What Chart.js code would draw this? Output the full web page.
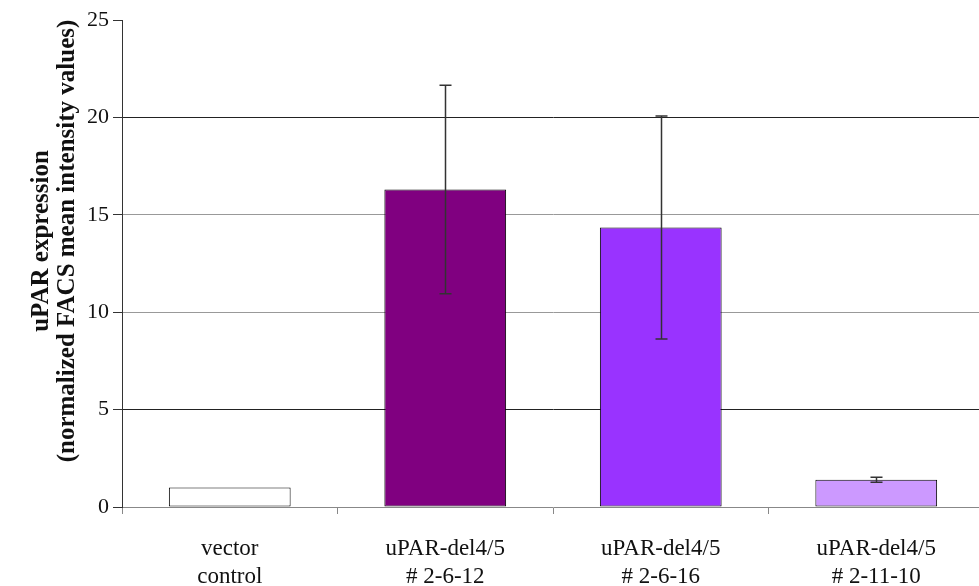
<!DOCTYPE html>
<html>
<head>
<meta charset="utf-8">
<script src="https://cdn.jsdelivr.net/npm/chart.js@4/dist/chart.umd.min.js"></script>
<style>
  html, body { margin: 0; padding: 0; background: #fff; overflow: hidden; }
  #wrap { width: 979px; height: 586px; overflow: hidden; }
</style>
</head>
<body>
<div id="wrap"><canvas id="c" width="984" height="586"></canvas></div>
<script>
// Cell lines measured by FACS
const categories = [
  ['vector', 'control'],
  ['uPAR-del4/5', '# 2-6-12'],
  ['uPAR-del4/5', '# 2-6-16'],
  ['uPAR-del4/5', '# 2-11-10']
];
// Normalized mean fluorescence intensity and its error (± SD)
const meanValues = [1.0, 16.3, 14.35, 1.4];
const errorValues = [0, 5.35, 5.72, 0.13];
const barColors = ['#ffffff', '#800080', '#9933ff', '#cc99ff'];
const yTicks = [0, 5, 10, 15, 20, 25];
const yTitle = ['uPAR expression', '(normalized FACS mean intensity values)'];

const serif = '"Liberation Serif", "Times New Roman", serif';

// Draws symmetric error bars on top of the bars using the chart's scales
const errorBarPlugin = {
  id: 'errorBars',
  afterDatasetsDraw(chart) {
    const ctx = chart.ctx;
    const meta = chart.getDatasetMeta(0);
    const y = chart.scales.y;
    ctx.save();
    ctx.strokeStyle = '#333';
    ctx.lineWidth = 1.5;
    meta.data.forEach((bar, i) => {
      const err = errorValues[i];
      if (!err) return;
      const x = Math.round(bar.x) + 0.5;
      const top = y.getPixelForValue(meanValues[i] + err);
      const bot = y.getPixelForValue(meanValues[i] - err);
      const cap = 6;
      ctx.beginPath();
      ctx.moveTo(x, top); ctx.lineTo(x, bot);
      ctx.moveTo(x - cap, top); ctx.lineTo(x + cap, top);
      ctx.moveTo(x - cap, bot); ctx.lineTo(x + cap, bot);
      ctx.stroke();
    });
    ctx.restore();
  }
};

// Two-line rotated title beside the value axis
const axisTitlePlugin = {
  id: 'axisTitle',
  afterDraw(chart) {
    const ctx = chart.ctx;
    ctx.save();
    ctx.fillStyle = '#111';
    ctx.font = 'bold 25px ' + serif;
    ctx.textAlign = 'center';
    ctx.textBaseline = 'middle';
    const cy = 241;
    const xs = [42, 68];
    yTitle.forEach((line, i) => {
      ctx.save();
      ctx.translate(xs[i], cy);
      ctx.rotate(-Math.PI / 2);
      ctx.fillText(line, 0, 0);
      ctx.restore();
    });
    ctx.restore();
  }
};

new Chart(document.getElementById('c'), {
  type: 'bar',
  data: {
    labels: categories,
    datasets: [{
      data: meanValues,
      backgroundColor: barColors,
      borderColor: '#000',
      borderWidth: 1,
      borderSkipped: false,
      barPercentage: 0.565,
      categoryPercentage: 1.0
    }]
  },
  options: {
    responsive: false,
    animation: false,
    devicePixelRatio: 1,
    layout: { padding: { top: 20, right: 0, left: 0, bottom: 0 } },
    plugins: {
      legend: { display: false },
      tooltip: { enabled: false }
    },
    scales: {
      x: {
        grid: {
          offset: true,
          drawOnChartArea: false,
          drawTicks: true,
          tickLength: 7,
          color: '#888'
        },
        border: { color: '#888', width: 1 },
        ticks: {
          color: '#111',
          font: { family: serif, size: 23, lineHeight: '28px' },
          padding: 21,
          maxRotation: 0,
          autoSkip: false
        },
        afterFit(scale) { scale.height = 79; }
      },
      y: {
        min: 0,
        max: 25,
        afterBuildTicks(scale) {
          scale.ticks = yTicks.map(v => ({ value: v }));
        },
        grid: {
          color(ctx) {
            const v = ctx.tick && ctx.tick.value;
            if (v === 0 || v === 25) return 'rgba(0,0,0,0)';
            return (v === 20 || v === 5) ? '#222' : '#999';
          },
          tickColor: '#333',
          tickLength: 9,
          drawTicks: true
        },
        border: { color: '#333', width: 1 },
        ticks: {
          color: '#111',
          font: { family: serif, size: 22 },
          padding: 4
        },
        afterFit(scale) { scale.width = 122; }
      }
    }
  },
  plugins: [errorBarPlugin, axisTitlePlugin]
});
</script>
</body>
</html>
